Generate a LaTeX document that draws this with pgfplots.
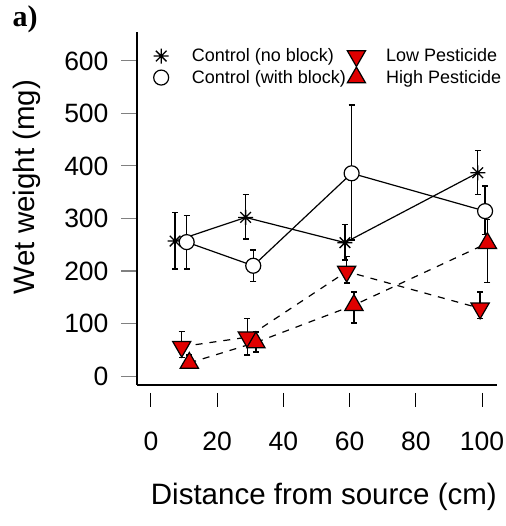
\documentclass[border=0pt]{standalone}
\usepackage{pgfplots}
\pgfplotsset{compat=1.18}
\usepackage{pgfplotstable}
\usepackage{fontspec}
\setmainfont{Liberation Sans}
\newfontfamily\serifb{Liberation Serif}
\definecolor{pred}{HTML}{E00000}
\pgfdeclareplotmark{rstar}{%
 \pgfpathmoveto{\pgfqpoint{-\pgfplotmarksize}{0pt}}\pgfpathlineto{\pgfqpoint{\pgfplotmarksize}{0pt}}%
 \pgfpathmoveto{\pgfqpoint{0pt}{-\pgfplotmarksize}}\pgfpathlineto{\pgfqpoint{0pt}{\pgfplotmarksize}}%
 \pgfpathmoveto{\pgfqpoint{-.707\pgfplotmarksize}{-.707\pgfplotmarksize}}\pgfpathlineto{\pgfqpoint{.707\pgfplotmarksize}{.707\pgfplotmarksize}}%
 \pgfpathmoveto{\pgfqpoint{-.707\pgfplotmarksize}{.707\pgfplotmarksize}}\pgfpathlineto{\pgfqpoint{.707\pgfplotmarksize}{-.707\pgfplotmarksize}}%
 \pgfusepathqstroke}
\pgfplotsset{
  limg/.style={legend image code/.code={%
    \begin{pgfinterruptboundingbox}\draw[##1] plot coordinates {(0pt,0pt)};\end{pgfinterruptboundingbox}%
    \path (-9pt,-4pt) (#1,4pt);}},
}
\pgfplotstableread{
x y ep em
7.3 257 55 53
28.6 302 43 41
58.6 254 34 33
98.7 387 43 42
}\starT
\pgfplotstableread{
x y ep em
10.8 255 50 51
30.9 210 30 30
60.6 386 130 127
100.9 314 48 44
}\circT
\pgfplotstableread{
x y ep em
9.3 56 29 21
29.1 74 36 34
59.1 199 28 22
99.4 129 31 19
}\lowT
\pgfplotstableread{
x y ep em
11.6 25 15 10
31.7 64 20 18
61.3 135 25 34
101.6 253 45 75
}\highT
\begin{document}
\begin{tikzpicture}[x=1pt,y=1pt]
\begin{axis}[
  at={(137pt,141pt)}, anchor=south west,
  scale only axis, width=360pt, height=353pt,
  xmin=-4.2, xmax=104.5, ymin=-17, ymax=655,
  axis lines=left, axis line style={-, line width=1.1pt},
  xtick={0,20,...,100}, ytick={0,100,...,600},
  tick align=outside, major tick length=16pt,
  xtick style={draw=none},
  ytick style={line width=1.1pt},
  /pgf/number format/assume math mode=true,
  tick label style={font=\fontsize{26.5}{28}\selectfont},
  yticklabel style={xshift=-9pt},
  xticklabel style={yshift=-27pt},
  xlabel={Distance from source (cm)},
  ylabel={Wet weight (mg)},
  label style={font=\fontsize{29.5}{32}\selectfont},
  xlabel style={at={(axis description cs:0.519,-0.317)}, anchor=center},
  ylabel style={at={(axis description cs:-0.306,0.561)}, anchor=center, rotate=0},
  clip=false,
  legend columns=2, transpose legend,
  legend cell align=left,
  legend style={draw=none, fill=none, inner sep=0pt, outer sep=0pt,
    at={(axis cs:0.2,625)}, anchor=north west,
    font=\fontsize{18}{20}\selectfont, row sep=5pt, column sep=0pt,
    nodes={inner xsep=1pt, inner ysep=1pt},
    /tikz/every odd column/.append style={column sep=27pt}},
  error bars/y dir=both, error bars/y explicit,
  error bars/error mark options={rotate=90, line width=1.3pt, mark size=3pt, black, solid},
  error bars/error bar style={line width=1.3pt, black, solid},
]
\addplot[black, line width=1.2pt, mark=rstar, mark size=7.5pt, mark options={line width=1.3pt}, limg=2pt]
  table[x=x, y=y, y error plus=ep, y error minus=em] {\starT};
\addlegendentry{Control (no block)}
\addplot[black, line width=1.2pt, mark=*, mark size=7.5pt, mark options={fill=white, line width=1.2pt}, limg=2pt]
  table[x=x, y=y, y error plus=ep, y error minus=em] {\circT};
\addlegendentry{Control (with block)}
\addplot[black, line width=1.2pt, dash pattern=on 7pt off 7pt, mark=triangle*, mark size=10.5pt, mark options={solid, fill=pred, rotate=180, line width=1.2pt}, limg=1pt]
  table[x=x, y=y, y error plus=ep, y error minus=em] {\lowT};
\addlegendentry{Low Pesticide}
\addplot[black, line width=1.2pt, dash pattern=on 7pt off 7pt, mark=triangle*, mark size=10.5pt, mark options={solid, fill=pred, line width=1.2pt}, limg=1pt]
  table[x=x, y=y, y error plus=ep, y error minus=em] {\highT};
\addlegendentry{High Pesticide}
\pgfplotsinvokeforeach{0,20,40,60,80,100}{
  \draw[line width=1.1pt] ([yshift=-8pt]axis cs:#1,-17) -- ([yshift=-22pt]axis cs:#1,-17);
}
\end{axis}
\node[font=\serifb\bfseries\fontsize{30}{32}\selectfont] at (25pt,507pt) {a)};
\pgfresetboundingbox
\path (0,0) rectangle (505pt,526pt);
\end{tikzpicture}
\end{document}
